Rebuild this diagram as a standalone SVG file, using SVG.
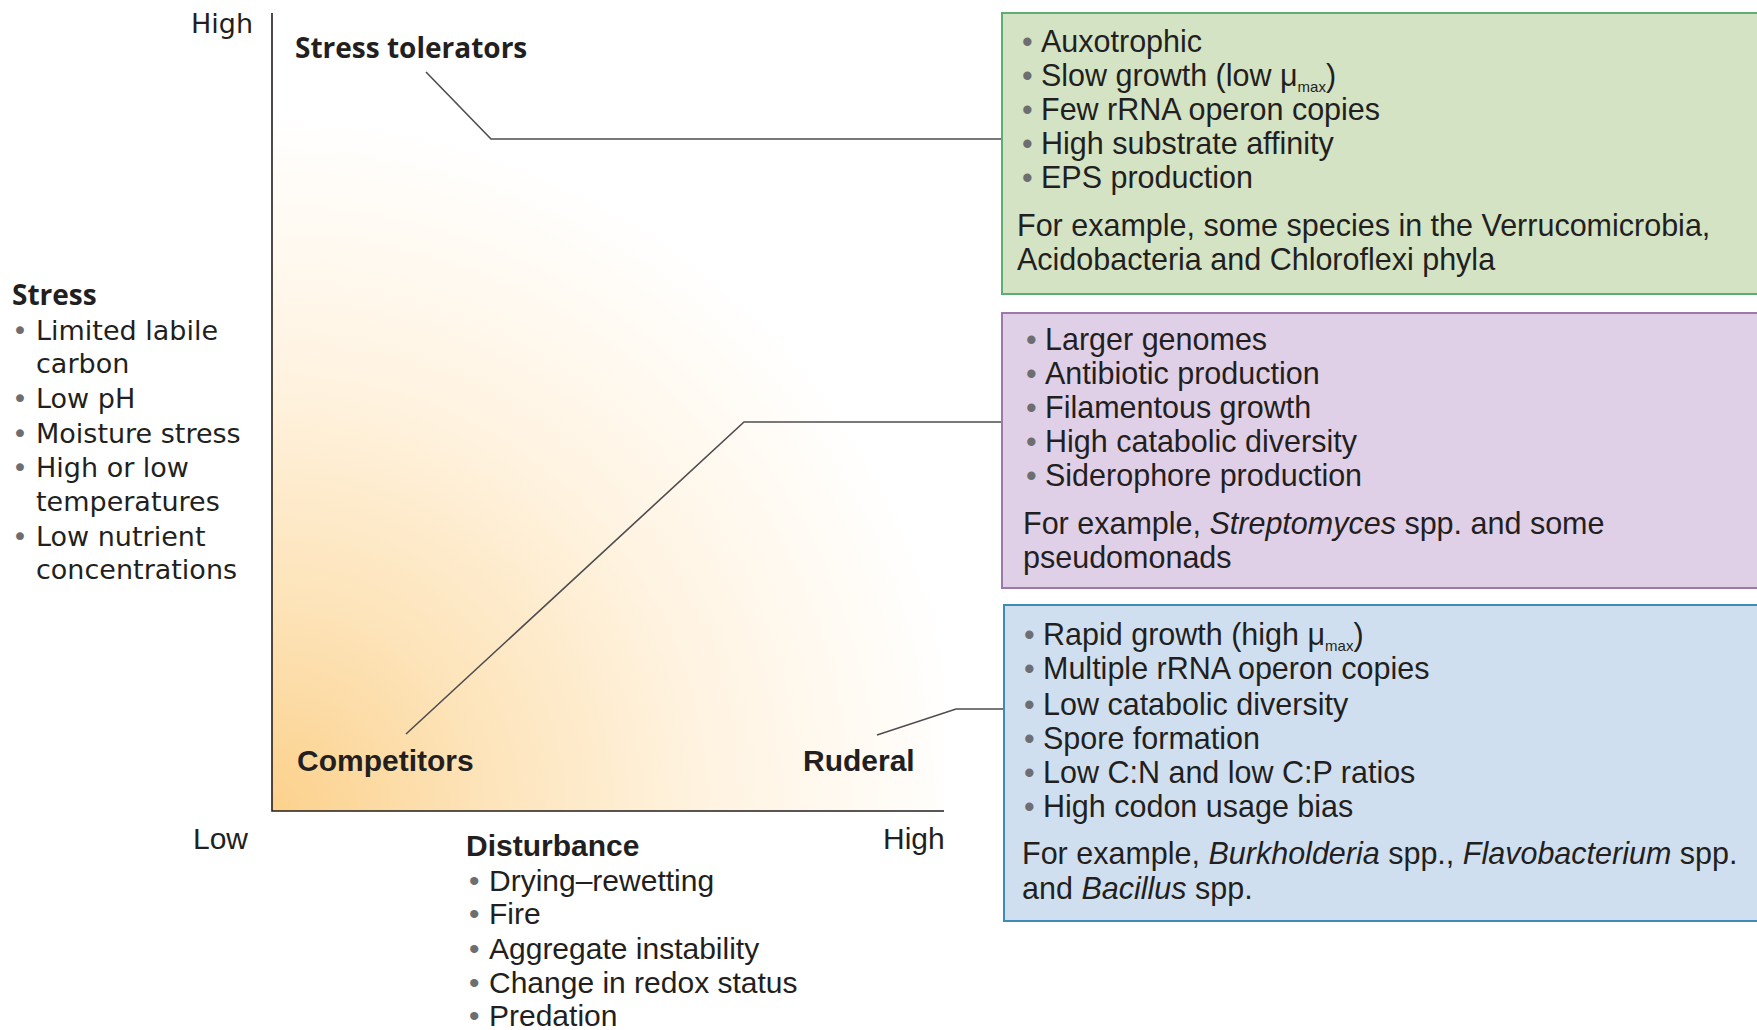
<svg xmlns="http://www.w3.org/2000/svg" width="1757" height="1030" viewBox="0 0 1757 1030">
<style>
.ax{font-family:"DejaVu Sans","Open Sans",sans-serif;font-size:27px;fill:#231f20}
.axb{font-family:"Open Sans","Liberation Sans",sans-serif;font-size:28px;font-weight:bold;fill:#231f20}
.cd{font-family:"Liberation Sans",Arial,sans-serif;font-size:30px;fill:#231f20}
.cdb{font-family:"Liberation Sans",Arial,sans-serif;font-size:30px;font-weight:bold;fill:#231f20}
.bx{font-family:"Liberation Sans",Arial,sans-serif;font-size:30.5px;fill:#231f20}
.b{fill:#6d6e71}
.i{font-style:italic}
.sub{font-size:15px}
.conn{fill:none;stroke:#4d4d4f;stroke-width:1.6}
.axis{fill:none;stroke:#231f20;stroke-width:1.6}
</style>
<defs>
<radialGradient id="g" gradientUnits="userSpaceOnUse" cx="272" cy="811" r="820">
<stop offset="0" stop-color="#fcd18c"/>
<stop offset="0.25" stop-color="#fde3b8"/>
<stop offset="0.55" stop-color="#fff4e3"/>
<stop offset="0.85" stop-color="#ffffff"/>
</radialGradient>
</defs>
<rect width="1757" height="1030" fill="#fff"/>
<g id="plot">
<rect x="272" y="13" width="672" height="798" fill="url(#g)"/>
<path class="axis" d="M272,13 V811 H944"/>
</g>
<g id="axis-labels">
<text class="ax" x="253" y="33" text-anchor="end">High</text>
<text class="cd" x="193" y="849">Low</text>
<text class="cd" x="883" y="849">High</text>
</g>
<g id="stress">
<text class="axb" x="12" y="305">Stress</text>
<text class="ax"><tspan class="b" x="12" y="340">•</tspan><tspan x="36">Limited labile</tspan></text>
<text class="ax" x="36" y="373">carbon</text>
<text class="ax"><tspan class="b" x="12" y="408">•</tspan><tspan x="36">Low pH</tspan></text>
<text class="ax"><tspan class="b" x="12" y="443">•</tspan><tspan x="36">Moisture stress</tspan></text>
<text class="ax"><tspan class="b" x="12" y="477">•</tspan><tspan x="36">High or low</tspan></text>
<text class="ax" x="36" y="511">temperatures</text>
<text class="ax"><tspan class="b" x="12" y="546">•</tspan><tspan x="36">Low nutrient</tspan></text>
<text class="ax" x="36" y="579">concentrations</text>
</g>
<g id="disturbance">
<text class="cdb" x="466" y="856">Disturbance</text>
<text class="cd"><tspan class="b" x="469" y="891">•</tspan><tspan x="489">Drying–rewetting</tspan></text>
<text class="cd"><tspan class="b" x="469" y="924">•</tspan><tspan x="489">Fire</tspan></text>
<text class="cd"><tspan class="b" x="469" y="959">•</tspan><tspan x="489">Aggregate instability</tspan></text>
<text class="cd"><tspan class="b" x="469" y="993">•</tspan><tspan x="489">Change in redox status</tspan></text>
<text class="cd"><tspan class="b" x="469" y="1026">•</tspan><tspan x="489">Predation</tspan></text>
</g>
<g id="stress-tolerators">
<text class="axb" x="295" y="58">Stress tolerators</text>
</g>
<g id="competitors">
<text class="cdb" x="297" y="771">Competitors</text>
</g>
<g id="ruderal">
<text class="cdb" x="803" y="771">Ruderal</text>
</g>
<g id="connectors">
<path class="conn" d="M426,72 L491,139 H1002"/>
<path class="conn" d="M406,734 L744,422 H1002"/>
<path class="conn" d="M877,735 L956,709 H1004"/>
</g>
<g id="box-stress">
<rect x="1002" y="13" width="770" height="281" fill="#d4e3c4" stroke="#5cae74" stroke-width="2"/>
<text class="bx"><tspan class="b" x="1022" y="52">•</tspan><tspan x="1041">Auxotrophic</tspan></text>
<text class="bx"><tspan class="b" x="1022" y="86">•</tspan><tspan x="1041">Slow growth (low μ</tspan><tspan class="sub" dy="6">max</tspan><tspan dy="-6">)</tspan></text>
<text class="bx"><tspan class="b" x="1022" y="120">•</tspan><tspan x="1041">Few rRNA operon copies</tspan></text>
<text class="bx"><tspan class="b" x="1022" y="154">•</tspan><tspan x="1041">High substrate affinity</tspan></text>
<text class="bx"><tspan class="b" x="1022" y="188">•</tspan><tspan x="1041">EPS production</tspan></text>
<text class="bx" x="1017" y="236">For example, some species in the Verrucomicrobia,</text>
<text class="bx" x="1017" y="270">Acidobacteria and Chloroflexi phyla</text>
</g>
<g id="box-competitors">
<rect x="1002" y="313" width="770" height="275" fill="#e0d0e7" stroke="#9c78ab" stroke-width="2"/>
<text class="bx"><tspan class="b" x="1026" y="350">•</tspan><tspan x="1045">Larger genomes</tspan></text>
<text class="bx"><tspan class="b" x="1026" y="384">•</tspan><tspan x="1045">Antibiotic production</tspan></text>
<text class="bx"><tspan class="b" x="1026" y="418">•</tspan><tspan x="1045">Filamentous growth</tspan></text>
<text class="bx"><tspan class="b" x="1026" y="452">•</tspan><tspan x="1045">High catabolic diversity</tspan></text>
<text class="bx"><tspan class="b" x="1026" y="486">•</tspan><tspan x="1045">Siderophore production</tspan></text>
<text class="bx" x="1023" y="534">For example, <tspan class="i">Streptomyces</tspan> spp. and some</text>
<text class="bx" x="1023" y="568">pseudomonads</text>
</g>
<g id="box-ruderal">
<rect x="1004" y="605" width="770" height="316" fill="#d0dff0" stroke="#3e8cb4" stroke-width="2"/>
<text class="bx"><tspan class="b" x="1024" y="645">•</tspan><tspan x="1043">Rapid growth (high μ</tspan><tspan class="sub" dy="6">max</tspan><tspan dy="-6">)</tspan></text>
<text class="bx"><tspan class="b" x="1024" y="679">•</tspan><tspan x="1043">Multiple rRNA operon copies</tspan></text>
<text class="bx"><tspan class="b" x="1024" y="715">•</tspan><tspan x="1043">Low catabolic diversity</tspan></text>
<text class="bx"><tspan class="b" x="1024" y="749">•</tspan><tspan x="1043">Spore formation</tspan></text>
<text class="bx"><tspan class="b" x="1024" y="783">•</tspan><tspan x="1043">Low C:N and low C:P ratios</tspan></text>
<text class="bx"><tspan class="b" x="1024" y="817">•</tspan><tspan x="1043">High codon usage bias</tspan></text>
<text class="bx" x="1022" y="864">For example, <tspan class="i">Burkholderia</tspan> spp., <tspan class="i">Flavobacterium</tspan> spp.</text>
<text class="bx" x="1022" y="899">and <tspan class="i">Bacillus</tspan> spp.</text>
</g>
</svg>
